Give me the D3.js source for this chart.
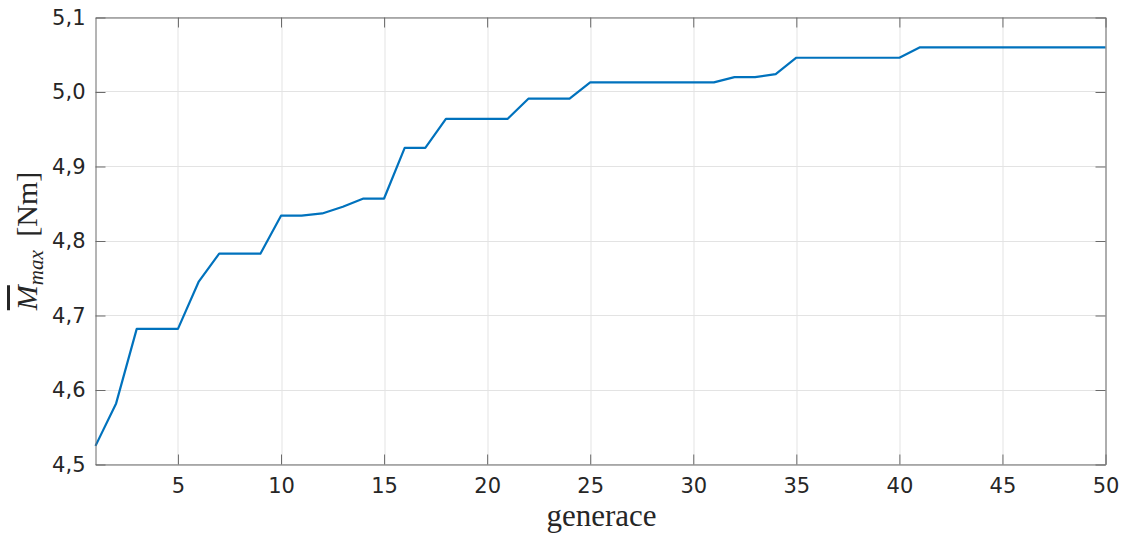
<!DOCTYPE html>
<html><head><meta charset="utf-8">
<script src="https://cdn.jsdelivr.net/npm/d3@7"></script>
<style>
html,body{margin:0;padding:0;background:#fff;}
svg{display:block;}
</style></head>
<body>
<svg id="chart" width="1129" height="533"></svg>
<script>
const generations = d3.range(1, 51);
const mmax = [4.525, 4.582, 4.682, 4.682, 4.682, 4.745, 4.783, 4.783, 4.783, 4.834,
              4.834, 4.837, 4.846, 4.857, 4.857, 4.925, 4.925, 4.964, 4.964, 4.964,
              4.964, 4.991, 4.991, 4.991, 5.013, 5.013, 5.013, 5.013, 5.013, 5.013,
              5.013, 5.020, 5.020, 5.024, 5.046, 5.046, 5.046, 5.046, 5.046, 5.046,
              5.060, 5.060, 5.060, 5.060, 5.060, 5.060, 5.060, 5.060, 5.060, 5.060];
const xTicks = [5, 10, 15, 20, 25, 30, 35, 40, 45, 50];
const yTicks = [4.5, 4.6, 4.7, 4.8, 4.9, 5.0, 5.1];
const xLabel = "generace";

const L = 95.5, R = 1105.5, T = 17.5, B = 464.5;
const W = R - L, H = B - T;
const svg = d3.select("#chart");
const g = svg.append("g").attr("transform", `translate(${L},${T})`);
const x = d3.scaleLinear().domain([1, 50]).range([0, W]);
const y = d3.scaleLinear().domain([4.5, 5.1]).range([H, 0]);
const fmt = d => d3.format(".1f")(d).replace(".", ",");

// grid
g.append("g").attr("class", "grid")
  .selectAll("line.gx").data(xTicks).join("line")
  .attr("x1", d => Math.round(x(d)) + 0.5).attr("x2", d => Math.round(x(d)) + 0.5)
  .attr("y1", 0).attr("y2", H);
g.append("g").attr("class", "grid")
  .selectAll("line.gy").data(yTicks).join("line")
  .attr("y1", d => Math.round(y(d))).attr("y2", d => Math.round(y(d)))
  .attr("x1", 0).attr("x2", W);
g.selectAll(".grid line").attr("stroke", "#e3e3e3").attr("stroke-width", 1);

// line
const line = d3.line().x((d, i) => x(generations[i])).y(d => y(d));
g.append("path").datum(mmax).attr("d", line)
  .attr("fill", "none").attr("stroke", "#0072BD").attr("stroke-width", 2.2)
  .attr("stroke-linejoin", "round");

// axes
const axColor = "#6b6b6b";
const xb = g.append("g").attr("transform", `translate(0,${H})`)
  .call(d3.axisBottom(x).tickValues(xTicks).tickSize(-10).tickPadding(14).tickSizeOuter(0).tickFormat(d => d));
const xt = g.append("g")
  .call(d3.axisTop(x).tickValues(xTicks).tickSize(-10).tickSizeOuter(0).tickFormat(""));
const yl = g.append("g")
  .call(d3.axisLeft(y).tickValues(yTicks).tickSize(-10).tickPadding(10).tickSizeOuter(0).tickFormat(fmt));
const yr = g.append("g").attr("transform", `translate(${W},0)`)
  .call(d3.axisRight(y).tickValues(yTicks).tickSize(-10).tickSizeOuter(0).tickFormat(""));
[xb, xt, yl, yr].forEach(a => {
  a.select(".domain").attr("stroke", axColor).attr("stroke-width", 1);
  a.selectAll(".tick line").attr("stroke", axColor).attr("stroke-width", 1);
  a.selectAll("text").attr("fill", "#262626").style("font-family", "'DejaVu Sans', sans-serif").style("font-size", "21px");
});

// x label
svg.append("text").attr("x", (L + R) / 2 + 1).attr("y", 526)
  .attr("text-anchor", "middle")
  .style("font-family", "'Liberation Serif', serif").style("font-size", "31px").attr("fill", "#262626")
  .text(xLabel);

// y label
const yt = svg.append("text")
  .attr("transform", `translate(37,${(T + B) / 2}) rotate(-90)`)
  .attr("text-anchor", "middle")
  .style("font-family", "'Liberation Serif', serif").style("font-size", "30px").attr("fill", "#262626");
yt.append("tspan").style("font-style", "italic").style("text-decoration", "overline").text("M");
yt.append("tspan").style("font-style", "italic").style("font-size", "21px").attr("dy", 6).text("max");
yt.append("tspan").attr("dy", -6).text("\u00a0\u2009[Nm]");
</script>
</body></html>
